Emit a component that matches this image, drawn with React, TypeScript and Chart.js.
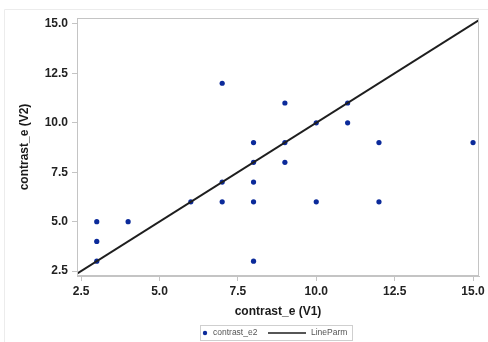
import React, { useEffect, useRef } from "react";
import { Chart, registerables } from "chart.js";

Chart.register(...registerables);

// Data
const xValues = [3, 3, 3, 4, 6, 7, 7, 7, 8, 8, 8, 8, 8, 9, 9, 9, 10, 10, 11, 11, 12, 12, 15];
const yValues = [3, 4, 5, 5, 6, 6, 7, 12, 3, 6, 7, 8, 9, 8, 9, 11, 6, 10, 10, 11, 6, 9, 9];
const xTicks = [2.5, 5.0, 7.5, 10.0, 12.5, 15.0];
const yTicks = [2.5, 5.0, 7.5, 10.0, 12.5, 15.0];
const xRange = [2.37, 15.19];
const yRange = [2.25, 15.3];
const lineIntercept = 0;
const lineSlope = 1;
const seriesName = "contrast_e2";
const lineName = "LineParm";
const xTitle = "contrast_e (V1)";
const yTitle = "contrast_e (V2)";

const FONT = "'Liberation Sans', Arial, sans-serif";
const POINT_COLOR = "#0b2a9a";
const LINE_COLOR = "#1e1e1e";
const FRAME_COLOR = "#c4c4c4";

const decorPlugin = {
  id: "decor",
  beforeDraw(chart: any) {
    const ctx = chart.ctx;
    ctx.save();
    ctx.strokeStyle = "#ececec";
    ctx.lineWidth = 1;
    ctx.beginPath();
    ctx.moveTo(4.5, 342);
    ctx.lineTo(4.5, 9.5);
    ctx.lineTo(488, 9.5);
    ctx.stroke();
    ctx.restore();
  },
  afterDatasetsDraw(chart: any) {
    const { ctx, chartArea } = chart;
    ctx.save();
    ctx.strokeStyle = FRAME_COLOR;
    ctx.lineWidth = 1;
    ctx.strokeRect(
      Math.round(chartArea.left) + 0.5,
      Math.round(chartArea.top) + 0.5,
      Math.round(chartArea.right - chartArea.left) - 1,
      Math.round(chartArea.bottom - chartArea.top) - 1
    );
    ctx.restore();
  },
  afterDraw(chart: any) {
    const ctx = chart.ctx;
    ctx.save();
    // legend box
    ctx.strokeStyle = "#cfcfcf";
    ctx.lineWidth = 1;
    ctx.strokeRect(200.5, 325.5, 152, 15);
    const cy = 333;
    ctx.fillStyle = POINT_COLOR;
    ctx.beginPath();
    ctx.arc(205, cy, 2.2, 0, Math.PI * 2);
    ctx.fill();
    ctx.font = `8.5px ${FONT}`;
    ctx.fillStyle = "#555";
    ctx.textBaseline = "middle";
    ctx.textAlign = "left";
    ctx.fillText(seriesName, 213, cy);
    ctx.strokeStyle = LINE_COLOR;
    ctx.lineWidth = 1.5;
    ctx.beginPath();
    ctx.moveTo(268, cy);
    ctx.lineTo(306, cy);
    ctx.stroke();
    ctx.fillText(lineName, 311, cy);
    ctx.restore();
  },
};

export default function App() {
  const ref = useRef<HTMLCanvasElement | null>(null);

  useEffect(() => {
    if (!ref.current) return;
    const points = xValues.map((x, i) => ({ x, y: yValues[i] }));
    const linePts = xRange.map((x) => ({ x, y: lineIntercept + lineSlope * x }));
    const tickFont = { family: FONT, size: 12, weight: "bold" as const };
    const chart = new Chart(ref.current, {
      type: "scatter",
      data: {
        datasets: [
          {
            label: seriesName,
            data: points,
            backgroundColor: POINT_COLOR,
            borderColor: POINT_COLOR,
            pointRadius: 2.6,
            pointBorderWidth: 0,
            order: 1,
          },
          {
            label: lineName,
            type: "line",
            data: linePts,
            borderColor: LINE_COLOR,
            borderWidth: 2,
            pointRadius: 0,
            fill: false,
            order: 0,
          } as any,
        ],
      },
      options: {
        responsive: false,
        animation: false,
        layout: { padding: { left: 4, top: 18, right: 9, bottom: 0 } },
        plugins: {
          legend: { display: false },
          tooltip: { enabled: false },
        },
        scales: {
          x: {
            type: "linear",
            min: xRange[0],
            max: xRange[1],
            afterBuildTicks: (s: any) => {
              s.ticks = xTicks.map((v) => ({ value: v }));
            },
            afterFit: (s: any) => {
              s.height = 66;
            },
            grid: {
              drawOnChartArea: false,
              drawTicks: true,
              tickLength: 5,
              color: FRAME_COLOR,
            },
            border: { display: true, color: FRAME_COLOR },
            ticks: {
              font: tickFont,
              color: "#222",
              padding: 3,
              maxRotation: 0,
              callback: (v: any) => Number(v).toFixed(1),
            },
            title: {
              display: true,
              text: xTitle,
              font: { family: FONT, size: 12, weight: "bold" },
              color: "#1a1a1a",
              padding: { top: 0, bottom: 23 },
            },
          },
          y: {
            type: "linear",
            min: yRange[0],
            max: yRange[1],
            afterBuildTicks: (s: any) => {
              s.ticks = yTicks.map((v) => ({ value: v }));
            },
            afterFit: (s: any) => {
              s.width = 73;
            },
            grid: {
              drawOnChartArea: false,
              drawTicks: true,
              tickLength: 5,
              color: FRAME_COLOR,
            },
            border: { display: true, color: FRAME_COLOR },
            ticks: {
              font: tickFont,
              color: "#222",
              padding: 4,
              callback: (v: any) => Number(v).toFixed(1),
            },
            title: {
              display: true,
              text: yTitle,
              font: { family: FONT, size: 12, weight: "bold" },
              color: "#1a1a1a",
              padding: { top: 13, bottom: 0 },
            },
          },
        },
      },
      plugins: [decorPlugin],
    });
    return () => chart.destroy();
  }, []);

  return (
    <div
      style={{
        position: "fixed",
        left: 0,
        top: 0,
        width: 488,
        height: 342,
        background: "#fff",
      }}
    >
      <canvas ref={ref} width={488} height={342} style={{ display: "block" }} />
    </div>
  );
}
